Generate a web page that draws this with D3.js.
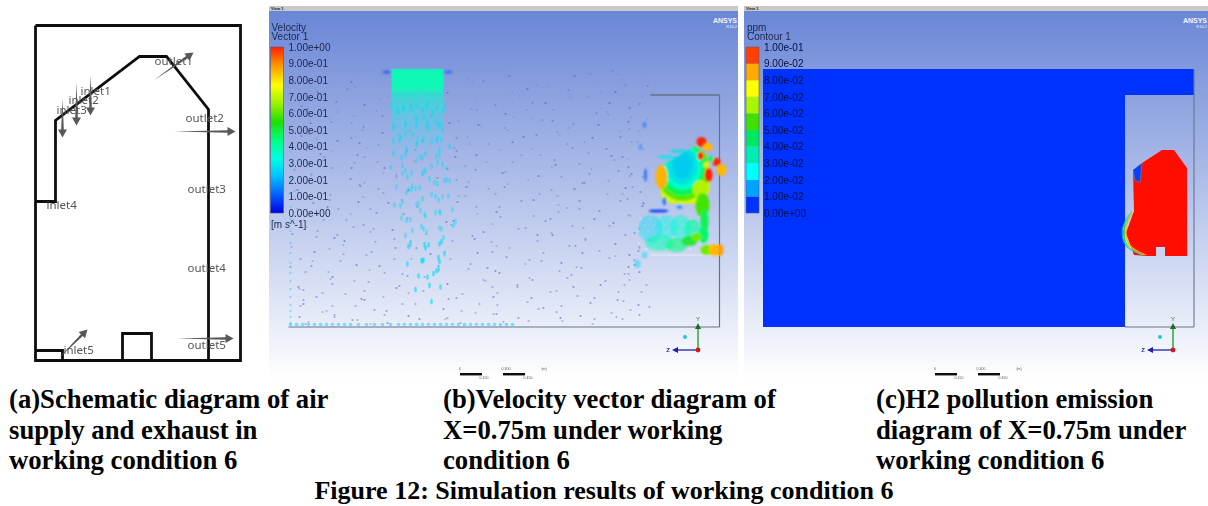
<!DOCTYPE html>
<html>
<head>
<meta charset="utf-8">
<script src="https://cdn.jsdelivr.net/npm/d3@7"></script>
<style>
	html, body { margin: 0; background: #fff; }
	svg { display: block; }
	.cap { font: bold 26.7px "Liberation Serif", serif; fill: #000; }
	.title { font: bold 26px "Liberation Serif", serif; fill: #000; }
	.port { font: 11.5px "Noto Sans", sans-serif; fill: #555; }
	.cfd { font: 10px "Liberation Sans", sans-serif; fill: #1c2650; }
</style>
</head>
<body>
<svg width="1208" height="506"></svg>
<script>
// ---- schematic (a), units are from the frame's top left corner
const frame = [[0, 0], [205, 0], [205, 335], [0, 335], [0, 0]];
const wall = [[0, 176], [20, 176], [20, 95], [104, 31], [131, 31], [173, 84], [173, 335]];
const inlet5Box = [[0, 325], [27, 325], [27, 335]];
const floorBox = [[87, 335], [87, 308], [116, 308], [116, 335]];
const portArrows = [
	[55, 50, 55, 90], [41, 57, 41, 100], [27, 73, 27, 112],
	[118, 55, 158, 27], [139, 106, 200, 106], [142, 313, 198, 313], [23, 333, 52, 304],
];
const portNames = ["inlet1", "inlet2", "inlet3", "inlet4", "inlet5", "outlet1", "outlet2", "outlet3", "outlet4", "outlet5"];
const portLabelX = [45, 33, 21, 11, 28, 119, 150, 152, 152, 152];
const portLabelY = [69, 78, 88, 183, 328, 39, 96, 167, 246, 323];

// ---- legends
const legendValues = [0, 0.1, 0.2, 0.3, 0.4, 0.5, 0.6, 0.7, 0.8, 0.9, 1];
const velocityLabels = ["0.00e+00", "1.00e-01", "2.00e-01", "3.00e-01", "4.00e-01", "5.00e-01", "6.00e-01", "7.00e-01", "8.00e-01", "9.00e-01", "1.00e+00"];
const ppmLabels = ["0.00e+00", "1.00e-02", "2.00e-02", "3.00e-02", "4.00e-02", "5.00e-02", "6.00e-02", "7.00e-02", "8.00e-02", "9.00e-02", "1.00e-01"];
const jetStops = [0, 0.11, 0.22, 0.33, 0.44, 0.55, 0.66, 0.77, 0.88, 1];
const jetColors = ["#0000e0", "#0060ff", "#00c0ff", "#00ffe0", "#00ff80", "#20e000", "#a0f000", "#ffff00", "#ffa000", "#ff2000"];
const ppmBands = ["#0033ff", "#00a4ff", "#00ffff", "#00efb0", "#00e860", "#40e000", "#aaf500", "#ffff00", "#ffaa00", "#ff4000"];

// ---- CFD domain, both panels use the same model coordinates
const domainOutline = [[0, 0], [431, 0], [431, 26], [362, 26], [362, 258], [0, 258]];
const inletSpan = [103, 155];

// velocity speckle: one row per y, x positions (b)
const speckleY = [3, 12, 18, 25, 31, 38, 44, 51, 57, 64, 70, 77, 83, 90, 96, 103, 109, 116, 122, 129, 135, 142, 148, 155, 161, 168, 174, 181, 187, 194, 200, 207, 213, 220, 226, 232, 239, 245, 250, 254];
const speckleX = [
	[8, 30, 62, 74, 96, 160, 190, 215, 262, 298, 330, 352, 395, 414],
	[14, 57, 84, 176, 201, 243, 279, 319, 338, 360],
	[22, 48, 71, 135, 182, 236, 262, 312, 344, 371],
	[3, 33, 66, 92, 168, 193, 218, 271, 296, 333, 349],
	[12, 39, 88, 128, 170, 224, 252, 286, 322, 351, 378],
	[21, 53, 77, 108, 185, 209, 237, 264, 304, 328, 356],
	[5, 26, 58, 97, 148, 177, 208, 240, 271, 303, 336, 349],
	[13, 37, 69, 89, 163, 198, 229, 255, 283, 317, 342, 358],
	[16, 44, 73, 118, 163, 191, 226, 256, 289, 315, 344, 355],
	[27, 55, 83, 99, 173, 207, 244, 275, 299, 325, 349],
	[9, 34, 66, 103, 142, 172, 201, 233, 268, 298, 331, 350],
	[19, 47, 75, 92, 167, 188, 216, 252, 284, 312, 340, 359],
	[24, 52, 81, 121, 157, 184, 218, 247, 277, 308, 338, 356],
	[4, 31, 62, 97, 171, 199, 231, 263, 293, 322, 347],
	[7, 41, 68, 95, 133, 169, 196, 229, 261, 294, 322, 346, 358],
	[15, 28, 57, 86, 104, 165, 212, 243, 271, 305, 331, 352],
	[18, 55, 84, 112, 150, 178, 211, 242, 272, 301, 333, 352],
	[6, 38, 70, 97, 160, 187, 224, 257, 287, 316, 343, 357],
	[11, 36, 63, 91, 126, 165, 193, 224, 255, 287, 317, 341, 354],
	[23, 49, 79, 101, 175, 204, 235, 268, 298, 326, 348, 360],
	[27, 49, 77, 105, 138, 174, 205, 236, 266, 297, 327, 348],
	[3, 30, 58, 88, 110, 181, 216, 249, 280, 309, 337, 356],
	[6, 33, 59, 86, 116, 160, 188, 219, 249, 279, 311, 336, 356],
	[17, 42, 67, 94, 170, 198, 228, 258, 290, 320, 344],
	[20, 45, 71, 99, 131, 171, 199, 231, 262, 292, 323, 345],
	[8, 29, 54, 79, 108, 183, 210, 241, 272, 302, 331, 352],
	[10, 38, 64, 92, 122, 155, 182, 214, 244, 274, 305, 331, 352],
	[22, 47, 73, 100, 130, 193, 222, 253, 284, 313, 340, 358],
	[25, 53, 80, 108, 141, 169, 196, 227, 258, 288, 318, 342, 356],
	[4, 32, 57, 85, 114, 178, 205, 236, 266, 296, 325, 347],
	[8, 35, 61, 89, 118, 151, 178, 208, 239, 270, 300, 328, 349],
	[15, 41, 68, 95, 126, 187, 216, 246, 277, 308, 336, 357],
	[19, 47, 74, 102, 132, 165, 192, 222, 252, 283, 313, 339, 355],
	[6, 27, 52, 80, 109, 172, 201, 231, 261, 292, 322, 345],
	[12, 30, 56, 83, 112, 144, 173, 203, 234, 264, 295, 324, 346],
	[20, 38, 64, 91, 120, 155, 184, 213, 243, 274, 304, 332, 352],
	[5, 23, 42, 68, 96, 124, 157, 186, 216, 247, 277, 307, 336, 352],
	[13, 33, 53, 78, 105, 136, 167, 196, 226, 256, 287, 316, 342],
	[14, 37, 60, 88, 115, 150, 180, 212, 241, 270, 301, 330, 350],
	[25, 46, 70, 97, 128, 161, 191, 222, 250, 283, 311, 338, 356],
];
const speckleShade = ["#5f78c8", "#7a8cc8", "#4a68c8", "#8a96c0", "#6a8ad0"];
// rows in the picture are not straight, hand offsets to break them up
const nudgeX = [3, -5, 7, -2, 6, -8, 1, 9, -4, -7, 4, -1, 8, -6, 2, -9, 5];
const nudgeY = [-2, 3, -4, 1, 5, -3, 0, 4, -5, 2, -1, 5, -2, -4, 3];

// cyan jet falling from the inlet, rows of x positions
const plumeY = [36, 44, 52, 60, 68, 76, 84, 92, 100, 108, 116, 124, 132, 140, 148, 156, 164, 172, 180, 188, 196, 204, 212, 220, 228];
const plumeX = [
	[105, 112, 119, 127, 134, 141, 148, 153],
	[106, 114, 122, 130, 137, 144, 151],
	[108, 116, 123, 131, 139, 146, 152],
	[104, 112, 120, 128, 136, 143, 150, 155],
	[106, 115, 124, 131, 139, 147, 154],
	[108, 118, 125, 133, 141, 149, 156],
	[105, 114, 122, 130, 138, 146, 153],
	[110, 118, 126, 135, 143, 151, 158],
	[107, 115, 124, 131, 139, 147, 155],
	[112, 120, 129, 136, 145, 153, 160],
	[109, 118, 126, 135, 143, 151, 158],
	[113, 122, 131, 140, 149, 157],
	[108, 118, 127, 136, 147, 158],
	[116, 125, 134, 144, 155, 163],
	[110, 124, 133, 141, 151, 162],
	[120, 130, 139, 150, 160],
	[114, 128, 137, 148, 158],
	[126, 135, 146, 156],
	[119, 132, 143, 156],
	[128, 138, 150],
	[122, 134, 146, 156],
	[130, 141, 153],
	[135, 146],
	[132, 150],
	[141],
];
const floorJetX = [2, 8, 14, 20, 26, 32, 38, 44, 50, 56, 62, 70, 78, 86, 94, 102, 110, 116, 122, 128, 134, 140, 146, 152, 158, 164, 170, 176, 182, 188, 194, 200, 206, 212, 218, 224];
const leftWallY = [82, 96, 110, 124, 138, 150, 162, 174, 184, 194, 204, 212, 220, 228, 236, 242, 248, 254];

// recirculation patch on the right, [x, y, rx, ry, speed, opacity]
const hotRoof = [[369, 99], [407, 77], [418, 86], [421, 110], [421, 186], [351, 186], [351, 145], [420, 145], [414, 135], [374, 134]];
const roofRings = [
	[394, 99, 34, 38, 0.72, 1], [394, 99, 28, 33, 0.6, 1], [394, 99, 23, 28, 0.48, 1],
	[394, 98, 19, 23, 0.36, 1], [394, 97, 15, 19, 0.24, 0.55], [394, 96, 10, 14, 0.2, 0.4],
];
const hotBlobs = [
	[373, 108, 6, 12, 0.86, 1], [378, 88, 9, 1.8, 0.3, 0.8], [390, 82, 9, 1.8, 0.28, 0.8],
	[413, 73, 5, 5, 1, 1], [419, 78, 5, 4, 0.85, 1], [412, 87, 3, 4, 1, 1],
	[428, 93, 4, 4, 1, 1], [433, 101, 5, 6, 0.85, 1], [420, 106, 4, 7, 1, 1],
	[422, 90, 3, 3, 0.45, 1], [418, 96, 3, 3, 0.72, 1], [412, 120, 8, 9, 0.68, 1],
	[414, 136, 7, 12, 0.58, 1], [416, 152, 4, 12, 0.48, 1], [415, 166, 5, 8, 0.46, 1],
	[362, 160, 12, 14, 0.27, 0.4], [378, 158, 11, 12, 0.32, 0.45], [392, 158, 10, 12, 0.34, 0.5],
	[404, 160, 8, 10, 0.4, 0.65], [371, 174, 14, 8, 0.38, 0.55], [388, 176, 11, 7, 0.44, 0.6],
	[401, 172, 8, 5, 0.52, 0.9], [408, 168, 5, 4, 0.62, 1], [418, 181, 6, 5, 0.62, 1],
	[426, 181, 6, 6, 0.85, 1], [432, 181, 3, 6, 0.88, 1], [370, 142, 10, 1.6, 0.06, 0.9],
	[376, 132, 2, 4, 0.12, 0.8], [391, 138, 3, 2, 0.16, 0.7], [357, 106, 1.5, 7, 0.1, 0.7],
	[356, 56, 1.5, 3, 0.12, 0.6], [352, 78, 1.5, 3, 0.14, 0.5], [356, 186, 3, 3, 0.28, 0.5],
	[349, 195, 3, 4, 0.26, 0.5], [98, 3, 4, 1.8, 0.08, 0.55], [160, 3, 4, 1.8, 0.1, 0.55],
];
// dotted flow in the lower block
const lowY = [150, 156, 162, 168, 174, 180];
const lowX = [
	[352, 362, 372, 382, 392, 402],
	[356, 366, 376, 386, 396, 406],
	[350, 360, 370, 380, 390, 400, 410],
	[354, 364, 374, 384, 394, 404],
	[350, 360, 370, 380, 390, 400],
	[358, 366, 378, 388, 402],
];

// H2 contour (c)
const cavity = [
	[399, 81], [411, 81], [424, 99], [424, 187], [402, 187], [402, 178], [393, 178], [393, 187],
	[384, 187], [371, 186], [363, 164], [371, 142], [370, 101], [379, 94],
];
const cavityPocket = [[370, 101], [379, 94], [377, 114], [372, 111]];
const frontY = [142, 147, 154, 164, 174, 180, 186];
const frontX = [
	[369, 365, 360, 358, 360, 365, 377],
	[369.5, 365.5, 361, 359, 361, 366, 378],
	[370, 366, 362, 360, 362, 367, 380],
	[370, 367, 363, 361, 363, 368, 381],
	[371, 367, 363, 362, 364, 369, 382],
	[371, 368, 364, 363, 365, 371, 384],
];
const frontColors = ["#00a4ff", "#00ffff", "#40e000", "#ffff00", "#ffaa00"];

const captions = [
	["(a)Schematic diagram of air", "supply and exhaust in", "working condition 6"],
	["(b)Velocity vector diagram of", "X=0.75m under working", "condition 6"],
	["(c)H2 pollution emission", "diagram of X=0.75m under", "working condition 6"],
];
const figureTitle = "Figure 12: Simulation results of working condition 6";

const svg = d3.select("svg");
const defs = svg.append("defs");

const addBlur = (id, dev) => defs.append("filter").attr("id", id)
	.attr("x", "-20%").attr("y", "-20%").attr("width", "140%").attr("height", "140%")
	.append("feGaussianBlur").attr("stdDeviation", dev);
addBlur("soft", 0.5);
addBlur("speck", 0.7);
addBlur("blob", 1.3);

const sky = defs.append("linearGradient").attr("id", "sky").attr("x2", 0).attr("y2", 1);
sky.append("stop").attr("offset", 0).attr("stop-color", "#6a86d6");
sky.append("stop").attr("offset", 1).attr("stop-color", "#ffffff");

const jet = d3.scaleLinear().domain(jetStops).range(jetColors).clamp(true);
const jetBar = defs.append("linearGradient").attr("id", "jetBar").attr("x2", 0).attr("y2", 1);
jetStops.slice().reverse().forEach(s => jetBar.append("stop").attr("offset", 1 - s).attr("stop-color", jet(s)));
const inletFade = defs.append("linearGradient").attr("id", "inletFade").attr("x2", 0).attr("y2", 1);
inletFade.append("stop").attr("offset", 0).attr("stop-color", "#10f8b4");
inletFade.append("stop").attr("offset", 0.2).attr("stop-color", "#10f8b4");
inletFade.append("stop").attr("offset", 0.3).attr("stop-color", "#20e8d0").attr("stop-opacity", 0.75);
inletFade.append("stop").attr("offset", 0.6).attr("stop-color", "#40d8e8").attr("stop-opacity", 0.45);
inletFade.append("stop").attr("offset", 1).attr("stop-color", "#50d8f0").attr("stop-opacity", 0);

drawSchematic();
drawVelocityPanel();
drawContourPanel();
drawCaptions();

function drawSchematic() {
	const x = d3.scaleLinear().domain([0, 205]).range([35.5, 240.5]);
	const y = d3.scaleLinear().domain([0, 335]).range([25.5, 360.5]);
	const line = d3.line().x(d => x(d[0])).y(d => y(d[1]));
	const g = svg.append("g").attr("filter", "url(#soft)");

	g.selectAll("path.wall")
		.data([frame, wall, inlet5Box, floorBox])
		.enter().append("path")
		.attr("class", "wall")
		.attr("d", line)
		.attr("fill", "none")
		.attr("stroke", "#111")
		.attr("stroke-width", 2.8);

	g.selectAll("text")
		.data(portNames)
		.enter().append("text")
		.attr("class", "port")
		.attr("x", (d, i) => x(portLabelX[i]))
		.attr("y", (d, i) => y(portLabelY[i]))
		.text(d => d);

	// tapered arrows, thin tail to a thick head
	g.selectAll("path.arrow")
		.data(portArrows)
		.enter().append("path")
		.attr("class", "arrow")
		.attr("fill", "#585858")
		.attr("d", d => {
			const x1 = x(d[0]), y1 = y(d[1]), x2 = x(d[2]), y2 = y(d[3]);
			const len = Math.hypot(x2 - x1, y2 - y1);
			const ux = (x2 - x1) / len, uy = (y2 - y1) / len;
			const px = -uy, py = ux;
			const bx = x2 - ux * 8, by = y2 - uy * 8;
			const p = d3.path();
			p.moveTo(x1, y1);
			p.lineTo(bx + px * 1.3, by + py * 1.3);
			p.lineTo(bx + px * 4.5, by + py * 4.5);
			p.lineTo(x2, y2);
			p.lineTo(bx - px * 4.5, by - py * 4.5);
			p.lineTo(bx - px * 1.3, by - py * 1.3);
			p.closePath();
			return p.toString();
		});
}

function panelBase(left, right) {
	const g = svg.append("g");
	g.append("rect").attr("x", left).attr("y", 11).attr("width", right - left).attr("height", 369).attr("fill", "url(#sky)");
	g.append("rect").attr("x", left).attr("y", 6).attr("width", right - left).attr("height", 5).attr("fill", "#c8c8c4");
	g.append("text").attr("class", "cfd").attr("x", left + 2).attr("y", 10)
		.style("font-size", "4px").style("font-weight", "bold").style("fill", "#222").text("View 1");
	g.append("text").attr("class", "cfd").attr("x", right - 1).attr("y", 23).attr("text-anchor", "end")
		.style("font-size", "7px").style("font-weight", "bold").style("fill", "#f4f6ff").text("ANSYS");
	g.append("text").attr("class", "cfd").attr("x", right - 1).attr("y", 28).attr("text-anchor", "end")
		.style("font-size", "4px").style("fill", "#f4f6ff").text("R16.2");
	return g;
}

function drawLegend(left, labels, title, fillBar, labelColor) {
	const y = d3.scaleLinear().domain([0, 1]).range([213, 47]);
	const g = svg.append("g").attr("filter", "url(#soft)");
	fillBar(g, y);
	g.append("rect").attr("x", left).attr("y", y(1)).attr("width", 13).attr("height", y(0) - y(1))
		.attr("fill", "none").attr("stroke", "#4a5a90").attr("stroke-width", 0.6);
	const axis = d3.axisRight(y)
		.tickValues(legendValues)
		.tickSize(0)
		.tickPadding(5)
		.tickFormat((d, i) => labels[i]);
	const ag = g.append("g").attr("transform", `translate(${left + 13},0)`).call(axis);
	ag.select(".domain").remove();
	ag.selectAll("text").attr("class", "cfd").attr("font-family", null).attr("font-size", null).style("fill", labelColor);
	g.selectAll("text.head")
		.data(title)
		.enter().append("text")
		.attr("class", "cfd head")
		.attr("x", left + 1)
		.attr("y", (d, i) => 31 + i * 8.5)
		.text(d => d);
	return g;
}

function drawTriad(g, x0) {
	const tx = x0, ty = 350;
	g.append("line").attr("x1", tx).attr("x2", tx).attr("y1", ty).attr("y2", 329).attr("stroke", "#22a030").attr("stroke-width", 1.4);
	g.append("path").attr("d", `M${tx - 3} ${329}L${tx + 3} ${329}L${tx} ${323}Z`).attr("fill", "#1a6a2a");
	g.append("line").attr("x1", tx).attr("x2", tx - 22).attr("y1", ty).attr("y2", ty).attr("stroke", "#3030b0").attr("stroke-width", 1.4);
	g.append("path").attr("d", `M${tx - 20} ${ty - 3}L${tx - 20} ${ty + 3}L${tx - 26} ${ty}Z`).attr("fill", "#2020a0");
	g.append("circle").attr("cx", tx).attr("cy", ty).attr("r", 2.4).attr("fill", "#d81818");
	g.append("circle").attr("cx", tx - 13).attr("cy", ty - 13).attr("r", 2).attr("fill", "#20c8d8");
	g.append("text").attr("class", "cfd").attr("x", tx).attr("y", 321).attr("text-anchor", "middle")
		.style("font-size", "6px").style("fill", "#2a7040").text("Y");
	g.append("text").attr("class", "cfd").attr("x", tx - 30).attr("y", ty + 2).attr("text-anchor", "middle")
		.style("font-size", "6px").style("font-weight", "bold").style("fill", "#2a2a90").text("Z");
}

function drawScaleBars(g, x0) {
	g.append("rect").attr("x", x0).attr("y", 373).attr("width", 22).attr("height", 2.4).attr("fill", "#111");
	g.append("rect").attr("x", x0 + 43).attr("y", 373).attr("width", 22).attr("height", 2.4).attr("fill", "#111");
	g.selectAll("text.sb")
		.data([["0", x0], ["0.150", x0 + 24], ["0.300", x0 + 46], ["0.450", x0 + 68], ["(m)", x0 + 84]])
		.enter().append("text")
		.attr("class", "cfd sb")
		.attr("x", d => d[1])
		.attr("y", (d, i) => (i % 2 ? 379 : 370))
		.attr("text-anchor", "middle")
		.style("font-size", "3.5px")
		.style("fill", "#555")
		.text(d => d[0]);
}

function drawVelocityPanel() {
	panelBase(269, 738);
	const x = d3.scaleLinear().domain([0, 431]).range([288.5, 719.5]);
	const y = d3.scaleLinear().domain([0, 258]).range([69, 327]);
	const line = d3.line().x(d => x(d[0])).y(d => y(d[1]));

	drawLegend(270.5, velocityLabels, ["Velocity", "Vector 1"], (lg, ly) => {
		lg.append("rect").attr("x", 270.5).attr("y", ly(1)).attr("width", 13).attr("height", ly(0) - ly(1)).attr("fill", "url(#jetBar)");
	}, "#1c2650");
	svg.append("text").attr("class", "cfd").attr("x", 271).attr("y", 228).attr("filter", "url(#soft)").text("[m s^-1]");

	const field = svg.append("g").attr("filter", "url(#speck)");

	// walls
	svg.append("g").attr("filter", "url(#soft)").selectAll("line.edge")
		.data([[0, 258, 431, 258], [431, 26, 431, 258], [362, 26, 431, 26], [362, 186, 431, 186]])
		.enter().append("line")
		.attr("class", "edge")
		.attr("x1", d => x(d[0])).attr("y1", d => y(d[1]))
		.attr("x2", d => x(d[2])).attr("y2", d => y(d[3]))
		.attr("stroke", (d, i) => (i === 3 ? "#e8ecf8" : "#66708c"))
		.attr("stroke-width", (d, i) => (i === 2 ? 1.4 : 1.2));

	// speckle
	const dots = speckleX.flatMap((row, r) => row.map((xv, i) => [
		xv + nudgeX[(i * 3 + r) % nudgeX.length],
		speckleY[r] + nudgeY[(i + r * 2) % nudgeY.length],
		speckleShade[(i + r) % speckleShade.length],
	]));
	field.selectAll("circle.speck")
		.data(dots.filter(d => d[0] > 0 && d[0] < 362 && d[1] > 1 && d[1] < 256))
		.enter().append("circle")
		.attr("class", "speck")
		.attr("cx", d => x(d[0]))
		.attr("cy", d => y(d[1]))
		.attr("r", 1.1)
		.attr("fill", d => d[2])
		.attr("opacity", 0.6);

	// inlet jet
	field.append("rect")
		.attr("x", x(inletSpan[0])).attr("y", y(0))
		.attr("width", x(inletSpan[1]) - x(inletSpan[0])).attr("height", y(90) - y(0))
		.attr("fill", "url(#inletFade)");
	const plume = plumeX.flatMap((row, r) => row.map((xv, i) => [
		xv + nudgeY[(i + r) % nudgeY.length],
		plumeY[r] + nudgeX[(i * 2 + r) % nudgeX.length] / 2,
	]));
	field.selectAll("ellipse.plume")
		.data(plume)
		.enter().append("ellipse")
		.attr("class", "plume")
		.attr("cx", d => x(d[0]))
		.attr("cy", d => y(d[1]))
		.attr("rx", 1.4)
		.attr("ry", 3)
		.attr("fill", jet(0.27))
		.attr("opacity", d => (d[1] > 170 ? 0.6 : 0.42));

	// fast flow hugging floor and left wall
	field.selectAll("circle.floorJet")
		.data(floorJetX)
		.enter().append("circle")
		.attr("class", "floorJet")
		.attr("cx", d => x(d))
		.attr("cy", y(255.5))
		.attr("r", 1.8)
		.attr("fill", jet(0.25))
		.attr("opacity", 0.5);
	field.selectAll("circle.wallJet")
		.data(leftWallY)
		.enter().append("circle")
		.attr("class", "wallJet")
		.attr("cx", x(2))
		.attr("cy", d => y(d))
		.attr("r", 1.2)
		.attr("fill", jet(0.25))
		.attr("opacity", 0.4);

	// right hand recirculation, rings cut to the roof shape
	defs.append("clipPath").attr("id", "roofClip").append("path").attr("d", line(hotRoof) + "Z");
	const hot = svg.append("g").attr("filter", "url(#blob)");
	hot.append("g").attr("clip-path", "url(#roofClip)")
		.selectAll("ellipse")
		.data(roofRings)
		.enter().append("ellipse")
		.attr("cx", d => x(d[0]))
		.attr("cy", d => y(d[1]))
		.attr("rx", d => d[2])
		.attr("ry", d => d[3])
		.attr("fill", d => jet(d[4]))
		.attr("opacity", d => d[5]);
	hot.append("g")
		.selectAll("ellipse")
		.data(hotBlobs)
		.enter().append("ellipse")
		.attr("cx", d => x(d[0]))
		.attr("cy", d => y(d[1]))
		.attr("rx", d => d[2])
		.attr("ry", d => d[3])
		.attr("fill", d => jet(d[4]))
		.attr("opacity", d => d[5]);

	const lowDots = lowX.flatMap((row, r) => row.map(xv => [xv, lowY[r]]));
	field.selectAll("circle.low")
		.data(lowDots)
		.enter().append("circle")
		.attr("class", "low")
		.attr("cx", d => x(d[0]))
		.attr("cy", d => y(d[1]))
		.attr("r", 1.2)
		.attr("fill", "#e8fff4")
		.attr("opacity", 0.35);

	const extras = svg.append("g").attr("filter", "url(#soft)");
	drawTriad(extras, 698);
	drawScaleBars(extras, 460);
}

function drawContourPanel() {
	panelBase(744, 1208);
	const x = d3.scaleLinear().domain([0, 431]).range([763, 1194]);
	const y = d3.scaleLinear().domain([0, 258]).range([69, 327]);
	const line = d3.line().x(d => x(d[0])).y(d => y(d[1]));
	const field = svg.append("g").attr("filter", "url(#soft)");

	field.append("path").attr("d", line(domainOutline) + "Z").attr("fill", "#0033ff");
	field.selectAll("line.edge")
		.data([[431, 0, 431, 258], [362, 258, 431, 258]])
		.enter().append("line")
		.attr("class", "edge")
		.attr("x1", d => x(d[0])).attr("y1", d => y(d[1]))
		.attr("x2", d => x(d[2])).attr("y2", d => y(d[3]))
		.attr("stroke", "#6a7490")
		.attr("stroke-width", 1.1);

	// polluted room
	field.append("path").attr("d", line(cavity) + "Z").attr("fill", "#ff0c00");
	field.append("path").attr("d", line(cavityPocket) + "Z").attr("fill", "#0a40f0").attr("stroke", "#40c8f0").attr("stroke-width", 0.4);

	// contour front, the bands between two neighbouring isolines
	const bandIndex = d3.range(frontColors.length);
	field.selectAll("path.band")
		.data(bandIndex)
		.enter().append("path")
		.attr("class", "band")
		.attr("fill", d => frontColors[d])
		.attr("d", d => d3.area().curve(d3.curveBasis)
			.y((v, i) => y(frontY[i]))
			.x0((v, i) => x(frontX[d][i]))
			.x1((v, i) => x(frontX[d + 1][i]))(frontY));

	drawLegend(746, ppmLabels, ["ppm", "Contour 1"], (lg, ly) => {
		lg.selectAll("rect.band")
			.data(ppmBands)
			.enter().append("rect")
			.attr("class", "band")
			.attr("x", 746)
			.attr("y", (d, i) => ly(legendValues[i + 1]))
			.attr("width", 13)
			.attr("height", (d, i) => ly(legendValues[i]) - ly(legendValues[i + 1]))
			.attr("fill", d => d);
	}, "#041048");

	const extras = svg.append("g").attr("filter", "url(#soft)");
	drawTriad(extras, 1173);
	drawScaleBars(extras, 935);
}

function drawCaptions() {
	const colX = [9, 443, 876];
	captions.forEach((lines, c) => {
		svg.selectAll(`text.cap${c}`)
			.data(lines)
			.enter().append("text")
			.attr("class", `cap cap${c}`)
			.attr("x", colX[c])
			.attr("y", (d, i) => 408 + i * 30.5)
			.text(d => d);
	});
	svg.append("text").attr("class", "title")
		.attr("x", 604).attr("y", 499).attr("text-anchor", "middle")
		.text(figureTitle);
}
</script>
</body>
</html>
